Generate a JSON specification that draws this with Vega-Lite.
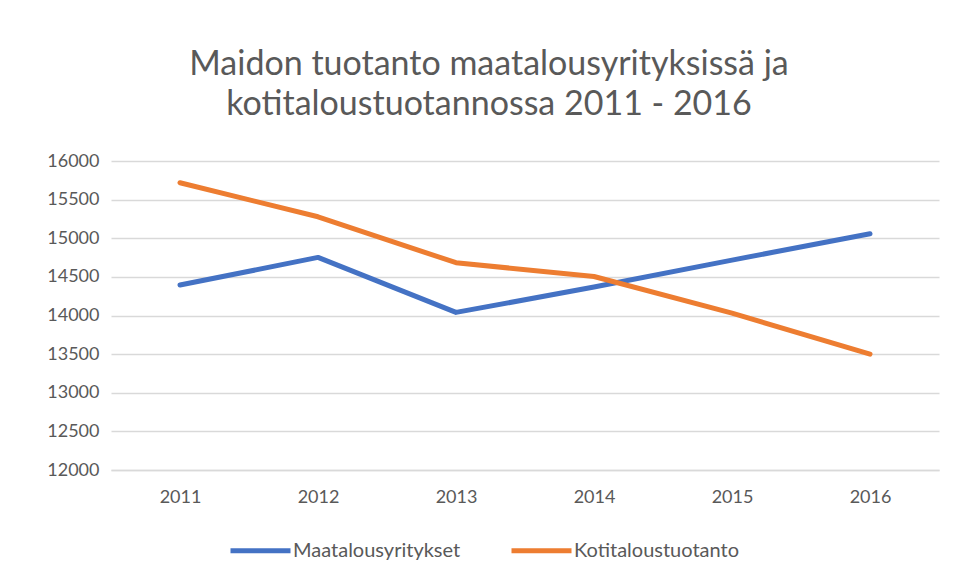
{
  "$schema": "https://vega.github.io/schema/vega-lite/v6.json",
  "width": 828,
  "height": 309,
  "autosize": {"type": "none"},
  "padding": {"left": 111, "top": 161, "right": 21, "bottom": 116},
  "background": "white",
  "title": {
    "text": ["Maidon tuotanto maatalousyrityksissä ja", "kotitaloustuotannossa 2011 - 2016"],
    "font": "Lato",
    "fontSize": 34,
    "fontWeight": "normal",
    "color": "#595959",
    "anchor": "middle",
    "frame": "group",
    "dx": -36,
    "offset": -4,
    "lineHeight": 40,
    "baseline": "bottom"
  },
  "data": {
    "values": [
      {"year": "2011", "series": "Maatalousyritykset", "value": 14394},
      {"year": "2012", "series": "Maatalousyritykset", "value": 14752},
      {"year": "2013", "series": "Maatalousyritykset", "value": 14040},
      {"year": "2014", "series": "Maatalousyritykset", "value": 14368},
      {"year": "2015", "series": "Maatalousyritykset", "value": 14717},
      {"year": "2016", "series": "Maatalousyritykset", "value": 15058},
      {"year": "2011", "series": "Kotitaloustuotanto", "value": 15719},
      {"year": "2012", "series": "Kotitaloustuotanto", "value": 15278},
      {"year": "2013", "series": "Kotitaloustuotanto", "value": 14683},
      {"year": "2014", "series": "Kotitaloustuotanto", "value": 14505},
      {"year": "2015", "series": "Kotitaloustuotanto", "value": 14031},
      {"year": "2016", "series": "Kotitaloustuotanto", "value": 13500}
    ]
  },
  "mark": {"type": "line", "strokeWidth": 5, "strokeCap": "round", "strokeJoin": "round"},
  "encoding": {
    "x": {
      "field": "year",
      "type": "ordinal",
      "scale": {"type": "point", "padding": 0.5},
      "axis": {
        "title": null,
        "labelAngle": 0,
        "domain": true,
        "domainColor": "#d9d9d9",
        "domainWidth": 1.5,
        "ticks": false,
        "labelPadding": 18,
        "labelFont": "Lato",
        "labelFontSize": 18,
        "labelColor": "#595959"
      }
    },
    "y": {
      "field": "value",
      "type": "quantitative",
      "scale": {"domain": [12000, 16000], "nice": false, "zero": false},
      "axis": {
        "title": null,
        "values": [12000, 12500, 13000, 13500, 14000, 14500, 15000, 15500, 16000],
        "format": "d",
        "domain": false,
        "ticks": false,
        "grid": true,
        "gridColor": "#d9d9d9",
        "gridWidth": 1.5,
        "labelPadding": 12,
        "labelFont": "Lato",
        "labelFontSize": 18,
        "labelColor": "#595959"
      }
    },
    "color": {
      "field": "series",
      "type": "nominal",
      "sort": ["Maatalousyritykset", "Kotitaloustuotanto"],
      "scale": {"domain": ["Maatalousyritykset", "Kotitaloustuotanto"], "range": ["#4472C4", "#ED7D31"]},
      "legend": {
        "title": null,
        "orient": "none",
        "direction": "horizontal",
        "legendX": 117,
        "legendY": 357,
        "symbolType": "stroke",
        "symbolSize": 3600,
        "symbolStrokeWidth": 5,
        "labelFont": "Lato",
        "labelFontSize": 20,
        "labelLimit": 400,
        "labelColor": "#595959",
        "labelOffset": 0,
        "columnPadding": 40
      }
    }
  },
  "config": {"view": {"stroke": null}}
}
